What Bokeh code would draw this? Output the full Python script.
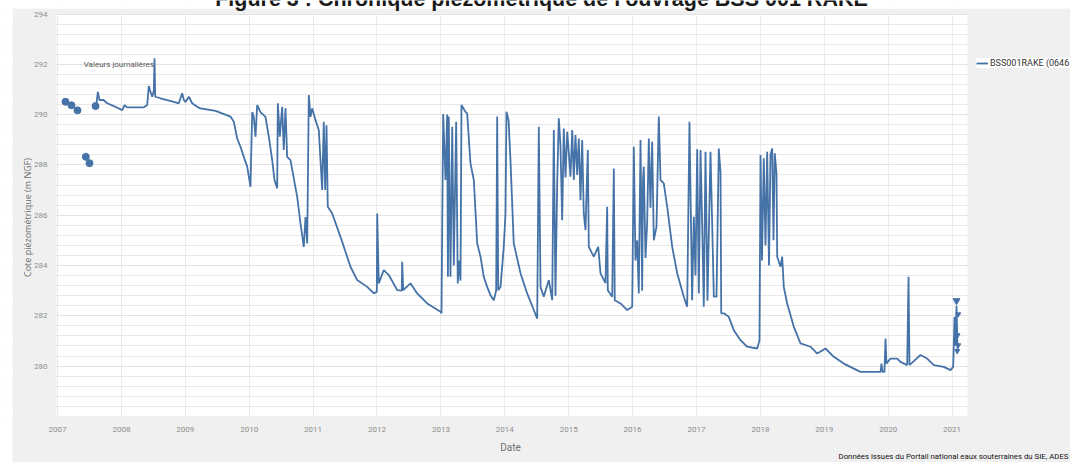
from bokeh.plotting import figure
from bokeh.models import Range1d, FixedTicker, Legend, LegendItem, Label
from bokeh.core.properties import value
from bokeh.embed import file_html
from bokeh.resources import INLINE
import numpy as np

# ---- data (decimal years, m NGF) ----
years = [2007.606, 2007.631, 2007.657, 2007.720, 2007.778, 2007.881, 2008.013, 2008.049, 2008.080,
         2008.142, 2008.351, 2008.404, 2008.429, 2008.455, 2008.482, 2008.507, 2008.518, 2008.529,
         2008.612, 2008.820, 2008.898, 2008.951, 2008.977, 2009.003, 2009.055, 2009.108, 2009.186,
         2009.238, 2009.473, 2009.707, 2009.759, 2009.812, 2009.864, 2009.916, 2009.969, 2010.020,
         2010.047, 2010.072, 2010.099, 2010.125, 2010.177, 2010.255, 2010.307, 2010.360, 2010.396,
         2010.438, 2010.448, 2010.479, 2010.516, 2010.541, 2010.568, 2010.594, 2010.646, 2010.751,
         2010.803, 2010.854, 2010.881, 2010.908, 2010.933, 2010.959, 2010.986, 2011.038, 2011.089,
         2011.142, 2011.167, 2011.189, 2011.210, 2011.230, 2011.299, 2011.429, 2011.585, 2011.690,
         2011.847, 2011.950, 2011.997, 2012.003, 2012.028, 2012.106, 2012.185, 2012.316, 2012.388,
         2012.394, 2012.410, 2012.524, 2012.629, 2012.786, 2012.994, 2013.009, 2013.036, 2013.072,
         2013.098, 2013.110, 2013.123, 2013.150, 2013.177, 2013.202, 2013.239, 2013.264, 2013.283,
         2013.307, 2013.322, 2013.385, 2013.411, 2013.463, 2013.515, 2013.568, 2013.620, 2013.671,
         2013.724, 2013.776, 2013.828, 2013.865, 2013.881, 2013.897, 2013.933, 2013.984, 2014.011,
         2014.026, 2014.059, 2014.089, 2014.140, 2014.246, 2014.350, 2014.454, 2014.507, 2014.532,
         2014.559, 2014.610, 2014.689, 2014.742, 2014.767, 2014.793, 2014.820, 2014.845, 2014.871,
         2014.898, 2014.923, 2014.950, 2014.977, 2015.001, 2015.028, 2015.055, 2015.080, 2015.106,
         2015.133, 2015.158, 2015.185, 2015.211, 2015.236, 2015.263, 2015.299, 2015.315, 2015.393,
         2015.462, 2015.498, 2015.576, 2015.602, 2015.612, 2015.681, 2015.706, 2015.721, 2015.811,
         2015.915, 2015.994, 2016.019, 2016.045, 2016.072, 2016.097, 2016.124, 2016.150, 2016.163,
         2016.175, 2016.202, 2016.228, 2016.254, 2016.280, 2016.306, 2016.332, 2016.374, 2016.410,
         2016.437, 2016.488, 2016.541, 2016.620, 2016.698, 2016.801, 2016.854, 2016.890, 2016.932,
         2016.958, 2016.984, 2017.011, 2017.036, 2017.063, 2017.089, 2017.114, 2017.141, 2017.172,
         2017.219, 2017.246, 2017.271, 2017.313, 2017.349, 2017.376, 2017.387, 2017.427, 2017.505,
         2017.584, 2017.689, 2017.793, 2017.950, 2017.986, 2018.002, 2018.025, 2018.053, 2018.080,
         2018.106, 2018.135, 2018.158, 2018.185, 2018.205, 2018.225, 2018.252, 2018.263, 2018.315,
         2018.341, 2018.366, 2018.419, 2018.523, 2018.628, 2018.784, 2018.889, 2019.019, 2019.149,
         2019.305, 2019.462, 2019.567, 2019.880, 2019.895, 2019.911, 2019.942, 2019.958, 2019.973,
         2020.036, 2020.141, 2020.192, 2020.297, 2020.318, 2020.333, 2020.401, 2020.505, 2020.610,
         2020.714, 2020.870, 2020.975, 2021.017, 2021.038, 2021.054, 2021.069, 2021.085]
levels = [290.34, 290.90, 290.58, 290.58, 290.45, 290.34, 290.18, 290.38, 290.30,
          290.29, 290.29, 290.38, 291.14, 290.91, 290.71, 290.95, 292.24, 290.71,
          290.65, 290.51, 290.45, 290.85, 290.58, 290.50, 290.71, 290.45, 290.31,
          290.25, 290.15, 289.92, 289.72, 289.05, 288.72, 288.32, 287.93, 287.13,
          290.10, 289.90, 289.12, 290.38, 290.10, 289.91, 289.12, 288.19, 287.40,
          287.07, 290.45, 289.12, 290.31, 288.59, 290.25, 288.32, 288.19, 286.73,
          285.67, 284.74, 285.93, 284.88, 290.78, 289.91, 290.25, 289.78, 289.39,
          287.00, 289.72, 287.00, 289.58, 286.34, 286.07, 285.14, 283.95, 283.42,
          283.15, 282.89, 282.95, 286.07, 283.29, 283.82, 283.62, 283.02, 283.00,
          284.15, 283.02, 283.29, 282.89, 282.49, 282.16, 282.10, 290.02, 287.40,
          290.00, 283.55, 289.92, 283.55, 289.52, 284.00, 289.72, 283.29, 284.20,
          283.40, 290.38, 290.11, 290.05, 288.06, 287.40, 284.88, 284.35, 283.55,
          283.15, 282.82, 282.62, 283.00, 289.92, 283.02, 283.15, 284.74, 286.07,
          290.11, 289.78, 288.19, 284.88, 283.69, 282.89, 282.23, 281.89, 289.52,
          283.15, 282.76, 283.42, 282.62, 289.39, 282.80, 287.27, 289.85, 288.80,
          285.80, 289.45, 287.50, 289.32, 288.50, 287.53, 289.39, 287.40, 289.19,
          287.60, 289.05, 286.60, 288.99, 286.07, 285.41, 288.59, 284.74, 284.35,
          284.74, 283.69, 283.30, 286.34, 283.02, 282.76, 287.86, 282.62, 282.49,
          282.23, 282.36, 288.72, 284.20, 285.00, 282.89, 288.99, 283.00, 287.40,
          287.93, 284.30, 285.67, 289.05, 286.30, 288.92, 285.00, 285.54, 289.92,
          287.40, 287.27, 286.34, 284.74, 283.69, 282.76, 282.36, 289.72, 282.62,
          285.94, 283.60, 288.62, 282.89, 288.59, 285.60, 282.36, 288.52, 282.60,
          288.52, 285.60, 282.76, 282.76, 288.65, 287.70, 282.10, 282.10, 281.96,
          281.43, 281.03, 280.77, 280.70, 281.03, 288.39, 284.20, 288.26, 284.80,
          288.52, 284.00, 288.40, 288.65, 285.00, 288.46, 287.65, 284.35, 283.95,
          284.35, 283.15, 282.49, 281.56, 280.90, 280.77, 280.50, 280.70, 280.37,
          280.10, 279.90, 279.77, 279.77, 280.10, 279.77, 279.77, 281.10, 280.10,
          280.30, 280.30, 280.17, 280.04, 283.55, 280.04, 280.20, 280.44, 280.30,
          280.04, 279.97, 279.84, 279.97, 281.96, 280.80, 282.40, 280.60]

dot_years = [2007.125, 2007.219, 2007.313, 2007.443, 2007.501, 2007.595]
dot_levels = [290.51, 290.37, 290.17, 288.32, 288.07, 290.34]

tri_years = [2021.069, 2021.096, 2021.085, 2021.096, 2021.080]
tri_levels = [282.60, 282.06, 281.23, 280.83, 280.60]

x_ticks = list(range(2007, 2022))
y_ticks = [280, 282, 284, 286, 288, 290, 292, 294]

title_text = "Figure 3 : Chronique piézométrique de l'ouvrage BSS 001 RAKE"
series_name = "BSS001RAKE (06461X0003/F)"
data_label = "Valeurs journalières"
x_title = "Date"
y_title = "Cote piézométrique (m NGF)"
source_text = "Données issues du Portail national eaux souterraines du SIE, ADES"

# ---- layout constants (plot window and page panel) ----
PX0, PX1 = 2006.984, 2021.241     # white plotting area, x
PY0, PY1 = 278.0, 294.0           # white plotting area, y
CX0, CX1 = 2006.108, 2022.853     # whole canvas, x
CY0, CY1 = 276.167, 294.537       # whole canvas, y
GX0 = 2006.296                    # left edge of grey panel
GY1 = 294.219                     # top edge of grey panel

FONT = "Roboto"
BLUE = "#4572A7"
GREY = "#f0f0f0"
W, H = 1070, 462

p = figure(width=W, height=H, output_backend="svg", toolbar_location=None,
           x_range=Range1d(CX0, CX1), y_range=Range1d(CY0, CY1),
           min_border=0, min_border_left=0, min_border_right=0, min_border_top=0, min_border_bottom=0,
           background_fill_color="white", border_fill_color="white",
           outline_line_color=None)

# grey page panel around the white plotting area; white page above/left of it
p.quad(left=[GX0, PX1, GX0, GX0], right=[PX0, CX1, CX1, CX1],
       bottom=[CY0, CY0, PY1, CY0], top=[GY1, GY1, GY1, PY0],
       fill_color=GREY, line_color=None)
p.quad(left=[CX0, CX0], right=[GX0, CX1], bottom=[CY0, GY1], top=[CY1, CY1],
       fill_color="white", line_color=None)

# title (cut by the top of the page, as in the reference)
p.text([2014.574], [294.60], text=[title_text], text_font=value("Liberation Sans"),
       text_font_size="21.5px", text_font_style="bold", text_color="#1a1a1a",
       text_align="center", text_baseline="alphabetic")

r_line = p.line(years, levels, line_color=BLUE, line_width=1.8)
p.scatter(dot_years, dot_levels, size=7, marker="circle", fill_color=BLUE, line_color=BLUE)
p.scatter(tri_years, tri_levels, size=[7, 5, 5, 5, 5], marker="inverted_triangle",
          fill_color=BLUE, line_color=BLUE)

p.text([2007.41], [292.0], text=[data_label], text_font=value(FONT), text_font_size="8px",
       text_color="#555555", text_baseline="middle", text_align="left")

# axes drawn at the edges of the plotting area
p.xaxis.fixed_location = PY0
p.yaxis.fixed_location = PX0
p.xaxis.ticker = FixedTicker(ticks=x_ticks)
p.xaxis.major_label_overrides = {t: str(t) for t in x_ticks}
p.yaxis.ticker = FixedTicker(ticks=y_ticks,
                             minor_ticks=[float(v) for v in np.round(np.arange(278, 294.01, 0.4), 2)])
p.yaxis.major_label_overrides = {t: str(t) for t in y_ticks}

for ax in (p.xaxis[0], p.yaxis[0]):
    ax.axis_line_color = None
    ax.major_tick_line_color = None
    ax.minor_tick_line_color = None
    ax.major_tick_out = 0
    ax.major_tick_in = 0
    ax.minor_tick_out = 0
    ax.minor_tick_in = 0
    ax.major_label_text_font = FONT
    ax.major_label_text_font_size = "8px"
    ax.major_label_text_color = "#8c8c8c"
    ax.axis_label = None
p.xaxis.major_label_standoff = 11
p.yaxis.major_label_standoff = 9

p.xgrid.grid_line_color = "#ebebeb"
p.ygrid.grid_line_color = "#e3e3e3"
p.ygrid.minor_grid_line_color = "#e8e8e8"

# axis titles
p.add_layout(Label(x=510, y=15, x_units="screen", y_units="screen", text=x_title,
                   text_align="center", text_baseline="middle", text_font=FONT,
                   text_font_size="10px", text_color="#707070"))
p.add_layout(Label(x=27, y=245, x_units="screen", y_units="screen", text=y_title, angle=np.pi / 2,
                   text_align="center", text_baseline="middle", text_font="Open Sans",
                   text_font_size="9px", text_color="#707070"))

legend = Legend(items=[LegendItem(label=series_name, renderers=[r_line])],
                location=(976, 394), background_fill_color="white", background_fill_alpha=1.0,
                border_line_color=None, label_text_font=FONT, label_text_font_size="9px",
                label_text_color="#333333", glyph_width=12, glyph_height=10, label_height=10,
                label_standoff=2, padding=5, margin=0, spacing=0)
p.add_layout(legend, "center")

p.add_layout(Label(x=1068, y=6, x_units="screen", y_units="screen", text=source_text,
                   text_align="right", text_baseline="middle", text_font=FONT,
                   text_font_size="7.8px", text_color="#111111"))

open("out.html", "w").write(file_html(p, INLINE))
